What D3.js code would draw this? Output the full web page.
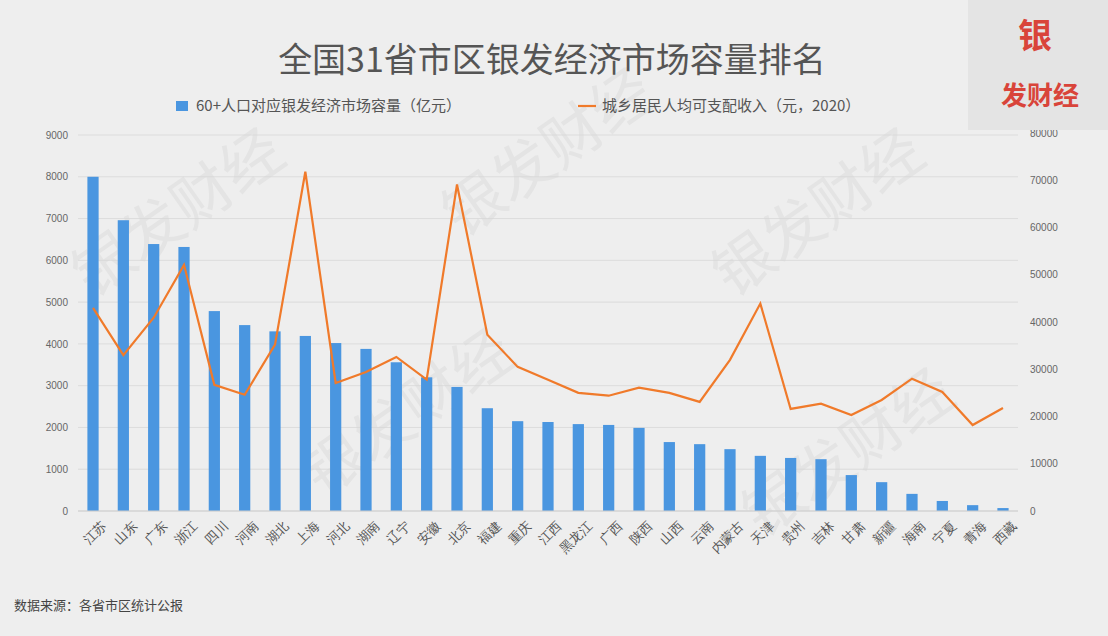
<!DOCTYPE html>
<html><head><meta charset="utf-8">
<script src="https://cdn.jsdelivr.net/npm/d3@7"></script>
<style>body{margin:0;background:#eeeeee;}svg{display:block;font-family:"Noto Sans CJK SC","Noto Sans",sans-serif;}</style>
</head><body><svg id="c" width="1108" height="636"></svg>
<script>
const provinces=["江苏","山东","广东","浙江","四川","河南","湖北","上海","河北","湖南","辽宁","安徽","北京","福建","重庆","江西","黑龙江","广西","陕西","山西","云南","内蒙古","天津","贵州","吉林","甘肃","新疆","海南","宁夏","青海","西藏"];
const marketSize=[8000,6960,6390,6320,4785,4450,4300,4190,4020,3880,3560,3200,2970,2460,2150,2130,2080,2060,1990,1650,1600,1480,1320,1270,1240,860,690,410,240,140,70];
const income=[43000,33000,40900,52100,26700,24600,35200,71800,27100,29400,32600,27800,69100,37300,30500,27800,25000,24400,26100,25000,23100,32000,43900,21600,22700,20300,23500,28000,25200,18200,21800];
const leftTicks=[0,1000,2000,3000,4000,5000,6000,7000,8000,9000];
const rightTicks=[0,10000,20000,30000,40000,50000,60000,70000,80000];

const svg=d3.select("#c");
svg.append("rect").attr("width",1108).attr("height",636).attr("fill","#eeeeee");
const pTop=133,pBot=511,pLeft=78,pRight=1018;
const x=d3.scaleBand().domain(provinces).range([pLeft,pRight]).paddingInner(0.63).paddingOuter(0.31);
const yL=d3.scaleLinear().domain([0,9000]).range([pBot,135]);
const yR=d3.scaleLinear().domain([0,80000]).range([pBot,pTop]);

svg.append("g").selectAll("line").data(leftTicks).join("line")
 .attr("x1",pLeft).attr("x2",pRight).attr("y1",d=>yL(d)).attr("y2",d=>yL(d))
 .attr("stroke","#dcdcdc").attr("stroke-width",1);

const wm=[[190,230],[560,170],[830,230],[420,430],[860,470]];
svg.append("g").selectAll("text").data(wm).join("text")
 .attr("transform",d=>`translate(${d[0]},${d[1]}) rotate(-35)`)
 .attr("text-anchor","middle").attr("font-size",60).attr("fill","#d8d8d8").attr("opacity",0.45)
 .text("银发财经");

svg.append("g").selectAll("rect").data(marketSize).join("rect")
 .attr("x",(d,i)=>x(provinces[i])).attr("width",x.bandwidth())
 .attr("y",d=>yL(d)).attr("height",d=>pBot-yL(d)).attr("fill","#4a96e0");

const line=d3.line().x((d,i)=>x(provinces[i])+x.bandwidth()/2).y(d=>yR(d));
svg.append("path").datum(income).attr("d",line).attr("fill","none").attr("stroke","#f07a2a").attr("stroke-width",2.2);

const gl=svg.append("g").attr("transform",`translate(${pLeft-10},0)`)
 .call(d3.axisLeft(yL).tickValues(leftTicks).tickFormat(d3.format("d")).tickSize(0).tickPadding(0));
const gr=svg.append("g").attr("transform",`translate(${pRight+12},0)`)
 .call(d3.axisRight(yR).tickValues(rightTicks).tickFormat(d3.format("d")).tickSize(0).tickPadding(0));
[gl,gr].forEach(g=>{g.select(".domain").remove();g.selectAll("text").attr("fill","#666").attr("font-size",10).attr("font-family","Liberation Sans, sans-serif");});
svg.append("line").attr("x1",pLeft).attr("x2",pRight).attr("y1",pBot).attr("y2",pBot).attr("stroke","#cfcfcf");

const gx=svg.append("g").attr("transform",`translate(0,${pBot+6})`)
 .call(d3.axisBottom(x).tickSize(0).tickPadding(0));
gx.select(".domain").remove();
gx.selectAll("text").attr("fill","#555").attr("font-size",13)
 .attr("text-anchor","end").attr("dy","0.7em")
 .attr("transform","translate(8,3) rotate(-45)");

svg.append("text").attr("x",552).attr("y",72).attr("text-anchor","middle").attr("font-size",34)
 .attr("fill","#555").text("全国31省市区银发经济市场容量排名");
svg.append("rect").attr("x",176).attr("y",101).attr("width",12).attr("height",10).attr("fill","#4a96e0");
svg.append("text").attr("x",196).attr("y",111).attr("font-size",15).attr("fill","#555").text("60+人口对应银发经济市场容量（亿元）");
svg.append("line").attr("x1",578).attr("x2",596).attr("y1",106).attr("y2",106).attr("stroke","#f07a2a").attr("stroke-width",2.2);
svg.append("text").attr("x",602).attr("y",111).attr("font-size",15).attr("fill","#555").text("城乡居民人均可支配收入（元，2020）");
svg.append("text").attr("x",14).attr("y",610).attr("font-size",13).attr("fill","#444").text("数据来源：各省市区统计公报");
svg.append("rect").attr("x",968).attr("y",0).attr("width",140).attr("height",130).attr("fill","#e4e4e4");
svg.append("text").attr("x",1035).attr("y",48).attr("text-anchor","middle").attr("font-size",34).attr("fill","#d9443a").attr("font-weight","bold").text("银");
svg.append("text").attr("x",1040).attr("y",105).attr("text-anchor","middle").attr("font-size",26).attr("fill","#d9443a").attr("font-weight","bold").text("发财经");
</script></body></html>
